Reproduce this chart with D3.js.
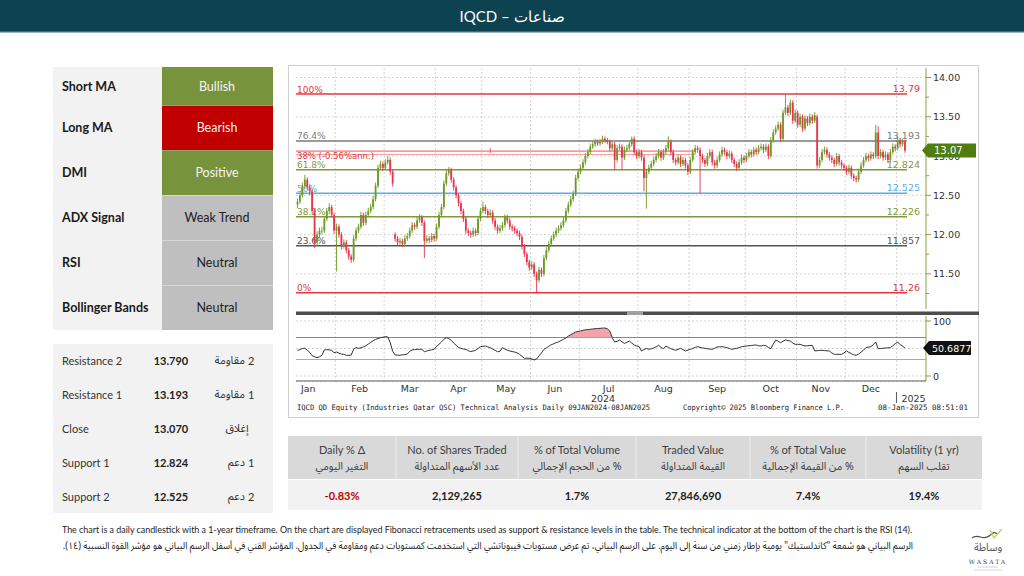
<!DOCTYPE html>
<html><head><meta charset="utf-8">
<script src="https://cdn.jsdelivr.net/npm/d3@7"></script>
<style>html,body{margin:0;padding:0;background:#fff;}svg{display:block}</style>
</head><body>
<svg id="c" width="1024" height="576"></svg>
<script>
// ---------- DATA ----------
const title = "IQCD – صناعات";
const sigLabels = ["Short MA","Long MA","DMI","ADX Signal","RSI","Bollinger Bands"];
const sigValues = ["Bullish","Bearish","Positive","Weak Trend","Neutral","Neutral"];
const sigState  = ["bull","bear","bull","neutral","neutral","neutral"];
const lvlEn  = ["Resistance 2","Resistance 1","Close","Support 1","Support 2"];
const lvlVal = ["13.790","13.193","13.070","12.824","12.525"];
const lvlAr  = ["مقاومة","مقاومة","إغلاق","دعم","دعم"];
const lvlArNum = ["2","1","","1","2"];
const statEn  = ["Daily % Δ","No. of Shares Traded","% of Total Volume","Traded Value","% of Total Value","Volatility (1 yr)"];
const statAr  = ["التغير اليومي","عدد الأسهم المتداولة","% من الحجم الإجمالي","القيمة المتداولة","% من القيمة الإجمالية","تقلب السهم"];
const statVal = ["-0.83%","2,129,265","1.7%","27,846,690","7.4%","19.4%"];
const fibPct = ["100%","76.4%","61.8%","50%","38.2%","23.6%","0%"];
const fibVal = [13.79,13.193,12.824,12.525,12.226,11.857,11.26];
const fibRight = ["13.79","13.193","12.824","12.525","12.226","11.857","11.26"];
const regLevels = [13.063,13.02];
const regLabel = "38% (-0.56%ann.)";
const priceTicks = [11.5,12.0,12.5,13.0,13.5,14.0];
const minorTicks = [11.25,11.75,12.25,12.75,13.25,13.75];
const rsiTicks = [0,100];
const rsiBands = [30,70];
const lastPrice = 13.07;
const lastRsi = 50.6877;
const months = ["Jan","Feb","Mar","Apr","May","Jun","Jul","Aug","Sep","Oct","Nov","Dec"];
const monthStart = [0,16,36,57,76,96,116,140,161,184,205,225,246]; // candle index where each month begins (last = Jan 2025)
const footLeft = "IQCD QD Equity (Industries Qatar QSC) Technical Analysis  Daily 09JAN2024-08JAN2025";
const footMid = "Copyright© 2025 Bloomberg Finance L.P.";
const footRight = "08-Jan-2025 08:51:01";
const noteEn = "The chart is a daily candlestick with a 1-year timeframe. On the chart are displayed Fibonacci retracements used as support & resistance levels in the table. The technical indicator at the bottom of the chart is the RSI (14).";
const noteAr = "الرسم البياني هو شمعة \"كاندلستيك\" يومية بإطار زمني من سنة إلى اليوم. على الرسم البياني، تم عرض مستويات فيبوناتشي التي استخدمت كمستويات دعم ومقاومة في الجدول. المؤشر الفني في أسفل الرسم البياني هو مؤشر القوة النسبية (١٤).";
// daily candles [open, high, low, close]
const candles = [
[12.38,12.46,12.34,12.42],[12.42,12.53,12.39,12.50],[12.50,12.66,12.47,12.62],[12.62,12.76,12.58,12.70],[12.70,12.73,12.57,12.60],
[12.60,12.64,12.50,12.55],[12.55,12.58,12.27,12.30],[12.30,12.33,11.83,11.90],[11.90,12.04,11.86,12.00],[12.00,12.09,11.96,12.05],
[12.05,12.10,12.00,12.05],[12.05,12.24,12.02,12.20],[12.20,12.34,12.17,12.30],[12.30,12.40,12.26,12.35],[12.35,12.38,12.21,12.25],
[12.25,12.28,12.01,12.05],[12.05,12.14,11.53,12.10],[12.10,12.13,11.96,12.00],[12.00,12.03,11.81,11.85],[11.85,11.94,11.82,11.90],
[11.90,11.93,11.76,11.80],[11.80,11.83,11.68,11.72],[11.72,11.75,11.64,11.68],[11.68,11.99,11.65,11.95],[11.95,12.09,11.92,12.05],
[12.05,12.14,12.02,12.10],[12.10,12.29,12.07,12.25],[12.25,12.28,12.11,12.15],[12.15,12.29,12.12,12.25],[12.25,12.34,12.22,12.30],
[12.30,12.39,12.27,12.35],[12.35,12.49,12.32,12.45],[12.45,12.66,12.42,12.62],[12.62,12.89,12.59,12.85],[12.85,12.94,12.82,12.90],
[12.90,12.93,12.81,12.85],[12.85,12.96,12.82,12.92],[12.92,13.00,12.89,12.95],[12.95,12.98,12.76,12.80],[12.80,12.83,12.61,12.65],
[12.00,12.03,11.91,11.95],[11.95,11.98,11.86,11.90],[11.90,11.96,11.87,11.92],[11.92,11.95,11.84,11.88],[11.88,11.99,11.85,11.95],
[11.95,12.02,11.92,11.98],[11.98,12.09,11.95,12.05],[12.05,12.16,12.02,12.12],[12.12,12.15,12.06,12.10],[12.10,12.22,12.07,12.18],
[12.18,12.26,12.15,12.22],[12.22,12.25,12.11,12.15],[12.15,12.18,11.70,11.92],[11.92,11.99,11.89,11.95],[11.95,11.98,11.89,11.93],
[11.93,12.02,11.90,11.98],[11.98,12.01,11.91,11.95],[11.95,12.14,11.92,12.10],[12.10,12.29,12.07,12.25],[12.25,12.39,12.22,12.35],
[12.35,12.69,12.32,12.65],[12.65,12.82,12.62,12.78],[12.78,12.86,12.75,12.82],[12.82,12.85,12.66,12.70],[12.70,12.73,12.56,12.60],
[12.60,12.63,12.46,12.50],[12.50,12.53,12.36,12.40],[12.40,12.43,12.26,12.30],[12.30,12.33,12.16,12.20],[12.20,12.23,12.01,12.05],
[12.05,12.08,11.98,12.02],[12.02,12.05,11.96,12.00],[12.00,12.09,11.97,12.05],[12.05,12.08,11.98,12.02],[12.02,12.24,11.99,12.20],
[12.20,12.34,12.17,12.30],[12.30,12.42,12.27,12.35],[12.35,12.38,12.26,12.30],[12.30,12.33,12.21,12.25],[12.25,12.32,12.22,12.28],
[12.28,12.31,12.14,12.18],[12.18,12.21,12.06,12.10],[12.10,12.13,12.01,12.05],[12.05,12.12,12.02,12.08],[12.08,12.16,12.05,12.12],
[12.12,12.26,12.09,12.22],[12.22,12.25,12.14,12.18],[12.18,12.21,12.06,12.10],[12.10,12.13,12.04,12.08],[12.08,12.11,12.01,12.05],
[12.05,12.08,11.98,12.02],[12.02,12.05,11.93,11.97],[11.97,12.00,11.81,11.85],[11.85,11.88,11.71,11.75],[11.75,11.78,11.61,11.65],
[11.65,11.68,11.54,11.58],[11.58,11.66,11.55,11.62],[11.62,11.65,11.46,11.50],[11.50,11.53,11.26,11.42],[11.42,11.59,11.39,11.55],
[11.55,11.58,11.46,11.50],[11.50,11.74,11.47,11.70],[11.70,11.84,11.67,11.80],[11.80,11.92,11.77,11.88],[11.88,11.99,11.85,11.95],
[11.95,12.04,11.92,12.00],[12.00,12.09,11.97,12.05],[12.05,12.12,12.02,12.08],[12.08,12.16,12.05,12.12],[12.12,12.22,12.09,12.18],
[12.18,12.34,12.15,12.30],[12.30,12.42,12.27,12.38],[12.38,12.49,12.35,12.45],[12.45,12.56,12.42,12.52],[12.52,12.76,12.49,12.72],
[12.72,12.84,12.69,12.80],[12.80,12.89,12.77,12.85],[12.85,12.96,12.82,12.92],[12.92,13.04,12.89,13.00],[13.00,13.09,12.97,13.05],
[13.05,13.16,13.02,13.12],[13.12,13.19,13.09,13.15],[13.15,13.22,13.12,13.18],[13.18,13.21,13.13,13.16],[13.16,13.22,13.13,13.18],
[13.18,13.26,13.15,13.22],[13.22,13.25,13.17,13.20],[13.20,13.23,13.15,13.18],[13.18,13.21,13.06,13.10],[13.10,13.19,13.07,13.15],
[13.15,13.18,12.82,12.95],[12.95,13.14,12.92,13.10],[13.10,13.16,13.07,13.12],[13.12,13.15,12.82,12.98],[12.98,13.12,12.95,13.08],
[13.08,13.14,13.05,13.10],[13.10,13.19,13.07,13.15],[13.15,13.25,13.12,13.22],[13.22,13.25,13.01,13.05],[13.05,13.08,12.96,13.00],
[13.00,13.09,12.97,13.05],[13.05,13.08,12.94,12.98],[12.98,13.01,12.55,12.72],[12.72,12.84,12.33,12.80],[12.80,12.89,12.77,12.85],
[12.85,12.94,12.82,12.90],[12.90,12.99,12.87,12.95],[12.95,13.04,12.92,13.00],[13.00,13.09,12.97,13.05],[13.05,13.08,12.94,12.98],
[12.98,13.09,12.95,13.05],[13.05,13.14,13.02,13.10],[13.10,13.25,13.07,13.18],[13.18,13.21,13.01,13.05],[13.05,13.08,12.91,12.95],
[12.95,12.98,12.88,12.92],[12.92,13.02,12.89,12.98],[12.98,13.01,12.86,12.90],[12.90,12.99,12.87,12.95],[12.95,12.98,12.84,12.88],
[12.88,12.91,12.76,12.80],[12.80,12.99,12.77,12.95],[12.95,13.09,12.92,13.05],[13.05,13.14,13.02,13.10],[13.10,13.13,13.04,13.08],
[13.08,13.11,12.53,13.00],[13.00,13.03,12.91,12.95],[12.95,12.98,12.86,12.90],[12.90,13.04,12.87,13.00],[13.00,13.09,12.97,13.05],
[13.05,13.08,12.88,12.92],[12.92,12.95,12.84,12.88],[12.88,12.99,12.85,12.95],[12.95,13.06,12.92,13.02],[13.02,13.12,12.99,13.08],
[13.08,13.11,13.01,13.05],[13.05,13.08,12.96,13.00],[13.00,13.07,12.97,13.03],[13.03,13.06,12.91,12.95],[12.95,12.98,12.86,12.90],
[12.90,12.93,12.81,12.85],[12.85,12.96,12.82,12.92],[12.92,13.02,12.89,12.98],[12.98,13.01,12.91,12.95],[12.95,13.04,12.92,13.00],
[13.00,13.09,12.97,13.05],[13.05,13.08,12.98,13.02],[13.02,13.12,12.99,13.08],[13.08,13.11,13.01,13.05],[13.05,13.14,13.02,13.10],
[13.10,13.16,13.07,13.12],[13.12,13.15,13.04,13.08],[13.08,13.16,13.05,13.12],[13.12,13.15,12.96,13.00],[13.00,13.24,12.97,13.20],
[13.20,13.34,13.17,13.30],[13.30,13.39,13.27,13.35],[13.35,13.44,13.32,13.40],[13.40,13.43,13.18,13.22],[13.22,13.59,13.19,13.55],
[13.55,13.79,13.52,13.62],[13.62,13.65,13.51,13.55],[13.55,13.72,13.52,13.68],[13.68,13.71,13.41,13.45],[13.45,13.59,13.42,13.55],
[13.55,13.58,13.36,13.40],[13.40,13.54,13.37,13.50],[13.50,13.53,13.31,13.35],[13.35,13.52,13.32,13.48],[13.48,13.51,13.38,13.42],
[13.42,13.54,13.39,13.50],[13.50,13.53,13.41,13.45],[13.45,13.56,13.42,13.52],[13.50,13.53,12.84,12.88],[12.88,12.99,12.85,12.95],
[12.95,13.09,12.92,13.05],[13.05,13.12,13.02,13.08],[13.08,13.11,12.98,13.02],[13.02,13.05,12.94,12.98],[12.98,13.01,12.91,12.95],
[12.95,12.98,12.86,12.90],[12.90,13.04,12.87,13.00],[13.00,13.03,12.88,12.92],[12.92,12.95,12.84,12.88],[12.88,12.91,12.81,12.85],
[12.85,12.88,12.76,12.80],[12.80,12.89,12.77,12.85],[12.85,12.88,12.71,12.75],[12.75,12.78,12.68,12.72],[12.72,12.75,12.66,12.70],
[12.70,12.84,12.67,12.80],[12.80,12.92,12.77,12.88],[12.88,12.99,12.85,12.95],[12.95,13.04,12.92,13.00],[13.00,13.03,12.93,12.97],
[12.97,13.06,12.94,13.02],[13.02,13.05,12.96,13.00],[13.00,13.40,12.97,13.30],[13.30,13.38,12.96,13.00],[13.00,13.09,12.97,13.05],
[13.05,13.08,12.94,12.98],[12.98,13.06,12.95,13.02],[13.02,13.05,12.91,12.95],[12.95,13.09,12.92,13.05],[13.05,13.16,13.02,13.12],
[13.12,13.15,13.06,13.10],[13.10,13.24,13.07,13.20],[13.20,13.23,13.11,13.15],[13.15,13.22,13.12,13.18],[13.18,13.21,13.04,13.07]
];
// RSI(14) daily values
const rsi = [
46.7,48,50,50.5,47,43,37,35,33.3,35,
37.6,47.3,48,47.5,46.7,42.4,43.6,41.5,40,39.4,
37.6,37.6,38,48.5,51.5,50.3,51,53,55,58,
61,64,66.7,68,69.7,70.5,71.5,71,60.6,45,
38.2,37.8,37.6,38.5,39,40,45,47.3,48,48.5,
48.5,48.5,44.2,45.5,46.7,47.5,48.5,54,57.6,62,
66.7,69.7,68,65,60,56,52,50.3,49,48.5,
46,44.2,45.5,46.7,50,53.3,54,54.5,53,51.5,
49,46.7,44,45,51.5,49,47,45.5,44.5,43.6,
42,39.4,36,32.1,32.5,32.1,31,29.1,31,36.4,
42,48.5,51,54,57,58.5,60.6,62,64.5,66.7,
69,72.7,75,77.5,80,81,82,83,84,84.5,
84.9,85.5,86,86.3,86.7,87,87.3,86,81.8,69.7,
61.8,63,65.5,62,59.4,61,63.6,60,56.4,54.5,
53.3,45.5,48,50.3,48.5,49.5,50.9,53,55.8,52,
49.7,54.5,52,49.7,48,46.7,48.5,50.3,48,45.5,
47,48.5,50,52,53.3,52,51,50.3,49.5,49,
48.5,50.5,52.7,53,53.3,52.5,51.5,50,48.5,49.5,
50.3,51.5,53.3,53.8,54.5,55,55.5,56,56.4,55,
54.5,55.8,55,52,49.7,58,65.5,63,60.6,63,
65.5,64.5,63.6,60,57.6,57.6,57.6,56,54.5,55,
55.5,55.8,45.5,46,46.5,46.7,46.2,45.8,45.5,42,
39.4,39.4,39.4,39.4,42,45.5,43,40.6,38.5,37.6,
40,43.6,47,51.5,52.5,53.3,57,61.8,49.7,50,
50.5,50.9,51.2,51.5,55,58.8,61.8,57,54.5,50.6877
];

// ---------- DRAW ----------
const svg = d3.select("#c");
const AR = "'Noto Sans Arabic','DejaVu Sans',sans-serif";
const LAT = "Lato,'Open Sans',sans-serif";
const BB = "'DejaVu Sans',Verdana,sans-serif";

// header
svg.append("rect").attr("x",0).attr("y",0).attr("width",1024).attr("height",31).attr("fill","#0d4351");
svg.append("rect").attr("x",0).attr("y",31).attr("width",1024).attr("height",1.5).attr("fill","#3d6d78");
svg.append("text").attr("x",512).attr("y",16).attr("text-anchor","middle").attr("dominant-baseline","central")
  .attr("fill","#fff").attr("font-family",LAT).attr("font-size",15).text(title);

// signal table
const sigColor = {bull:"#77933c",bear:"#c00000",neutral:"#bfbfbf"};
const rowTop = i => i===0 ? 67 : 105 + (i-1)*45;
const rowH = i => i===0 ? 38 : 45;
svg.append("rect").attr("x",53).attr("y",67).attr("width",109).attr("height",263).attr("fill","#f2f2f2");
sigLabels.forEach((lab,i)=>{
  const t=rowTop(i), h=rowH(i);
  svg.append("rect").attr("x",162).attr("y",t).attr("width",111).attr("height",h).attr("fill",sigColor[sigState[i]]);
  if(i>0) svg.append("line").attr("x1",162).attr("x2",273).attr("y1",t+0.5).attr("y2",t+0.5)
     .attr("stroke", sigState[i]==="neutral"? "#d8d8d8" : "#9a9a6a").attr("stroke-width",1);
  svg.append("text").attr("x",62).attr("y",t+h/2).attr("dominant-baseline","central")
    .attr("font-family",LAT).attr("font-weight",700).attr("font-size",12.5).attr("fill","#1a1a1a").text(lab);
  svg.append("text").attr("x",217).attr("y",t+h/2).attr("dominant-baseline","central").attr("text-anchor","middle")
    .attr("font-family",LAT).attr("font-size",12.5).attr("fill", sigState[i]==="neutral"?"#222":"#f4f4f4").text(sigValues[i]);
});

// levels table
svg.append("rect").attr("x",53).attr("y",344).attr("width",220).attr("height",169).attr("fill","#f2f2f2");
lvlEn.forEach((lab,i)=>{
  const cy = 360 + i*34;
  svg.append("text").attr("x",62).attr("y",cy).attr("dominant-baseline","central")
    .attr("font-family",LAT).attr("font-size",11).attr("fill","#333").text(lab);
  svg.append("text").attr("x",171).attr("y",cy).attr("dominant-baseline","central").attr("text-anchor","middle")
    .attr("font-family",LAT).attr("font-weight",700).attr("font-size",11).attr("fill","#222").text(lvlVal[i]);
  if(lvlArNum[i]){
    svg.append("text").attr("x",245).attr("y",cy).attr("dominant-baseline","central").attr("text-anchor","start")
      .attr("direction","rtl").attr("font-family",AR).attr("font-size",11).attr("fill","#333").text(lvlAr[i]);
    svg.append("text").attr("x",248).attr("y",cy).attr("dominant-baseline","central").attr("text-anchor","start")
      .attr("font-family",LAT).attr("font-size",11).attr("fill","#333").text(lvlArNum[i]);
  } else {
    svg.append("text").attr("x",237).attr("y",cy).attr("dominant-baseline","central").attr("text-anchor","middle")
      .attr("direction","rtl").attr("font-family",AR).attr("font-size",11).attr("fill","#333").text(lvlAr[i]);
  }
});

// stats table
const colB = [288,396,518,636,750,866,982];
svg.append("rect").attr("x",288).attr("y",436).attr("width",694).attr("height",43).attr("fill","#d9d9d9");
svg.append("rect").attr("x",288).attr("y",480).attr("width",694).attr("height",30).attr("fill","#f2f2f2");
statEn.forEach((lab,i)=>{
  const cx=(colB[i]+colB[i+1])/2;
  if(i>0) svg.append("line").attr("x1",colB[i]).attr("x2",colB[i]).attr("y1",436).attr("y2",479).attr("stroke","#eeeeee").attr("stroke-width",1);
  svg.append("text").attr("x",cx).attr("y",449).attr("dominant-baseline","central").attr("text-anchor","middle")
    .attr("font-family",LAT).attr("font-size",11).attr("fill","#404040").text(lab);
  svg.append("text").attr("x",cx).attr("y",467).attr("dominant-baseline","central").attr("text-anchor","middle")
    .attr("direction","rtl").attr("font-family",AR).attr("font-size",10.5).attr("fill","#404040").text(statAr[i]);
  svg.append("text").attr("x",cx).attr("y",495).attr("dominant-baseline","central").attr("text-anchor","middle")
    .attr("font-family",LAT).attr("font-weight",700).attr("font-size",11).attr("fill", statVal[i].startsWith("-")?"#c00000":"#222").text(statVal[i]);
});

// notes
svg.append("text").attr("x",62).attr("y",529).attr("dominant-baseline","central")
  .attr("font-family",LAT).attr("font-size",10).attr("fill","#222")
  .attr("textLength",850).attr("lengthAdjust","spacingAndGlyphs").text(noteEn);
const arG = svg.append("g");
const arT = arG.append("text").attr("x",0).attr("y",0).attr("dominant-baseline","central").attr("text-anchor","start")
  .attr("direction","rtl").attr("font-family",AR).attr("font-size",10).attr("fill","#222").text(noteAr);
const arLen = arT.node().getComputedTextLength();
arG.attr("transform",`translate(913,546) scale(${Math.min(1,851/arLen)},1)`);

// logo
const lg = svg.append("g");
lg.append("path").attr("d","M972,538 C978,533 983,541 989,536 C993,533 995,531 997,534").attr("fill","none").attr("stroke","#4a4a4a").attr("stroke-width",1.2);
lg.append("path").attr("d","M990,530 L994,538 L1002,529").attr("fill","none").attr("stroke","#c8d26a").attr("stroke-width",1.5);
lg.append("text").attr("x",988).attr("y",548).attr("text-anchor","middle").attr("dominant-baseline","central").attr("direction","rtl")
  .attr("font-family",AR).attr("font-size",10.5).attr("fill","#555").text("وساطة");
lg.append("text").attr("x",988).attr("y",561).attr("text-anchor","middle").attr("dominant-baseline","central")
  .attr("font-family","'DejaVu Serif',serif").attr("font-size",6).attr("letter-spacing",2).attr("fill","#444").text("WASATA");
lg.append("line").attr("x1",978).attr("x2",998).attr("y1",567).attr("y2",567).attr("stroke","#bbb").attr("stroke-width",0.6);
lg.append("line").attr("x1",974).attr("x2",1002).attr("y1",570).attr("y2",570).attr("stroke","#bbb").attr("stroke-width",0.6);

// ---------- Bloomberg chart ----------
const N = candles.length;
const x = d3.scaleLinear().domain([0,N-1]).range([297.5,905]);
const y = d3.scaleLinear().domain([11.26,13.79]).range([292.7,94]);
const yr = d3.scaleLinear().domain([0,100]).range([376,321]);
const PL=296, PR=926, PT=68, PB=309, RT=316, RB=381;
const ch = svg.append("g");
ch.append("rect").attr("x",288.5).attr("y",65.5).attr("width",690).attr("height",352).attr("fill","#fff").attr("stroke","#cfcfcf");

// grids
const grid = ch.append("g").attr("stroke","#c8c8c8").attr("stroke-dasharray","2,2").attr("stroke-width",0.8);
priceTicks.forEach(v=>grid.append("line").attr("x1",PL).attr("x2",PR).attr("y1",y(v)).attr("y2",y(v)));
[0,50,100].forEach(v=>grid.append("line").attr("x1",PL).attr("x2",PR).attr("y1",yr(v)).attr("y2",yr(v)));
monthStart.slice(1).forEach(m=>{
  const xx = x(m-0.5);
  grid.append("line").attr("x1",xx).attr("x2",xx).attr("y1",PT).attr("y2",PB);
  grid.append("line").attr("x1",xx).attr("x2",xx).attr("y1",RT).attr("y2",RB);
});

// fib lines
const fibColor = ["#e0383e","#7a7a7a","#7f9a3c","#5aaee8","#7f9a3c","#555555","#e0383e"];
fibVal.forEach((v,i)=>{
  ch.append("line").attr("x1",PL).attr("x2",907).attr("y1",y(v)).attr("y2",y(v)).attr("stroke",fibColor[i]).attr("stroke-width",1.5);
  ch.append("text").attr("x",297).attr("y",y(v)-1.5).attr("font-family",BB).attr("font-size",9).attr("fill",fibColor[i]).text(fibPct[i]);
  ch.append("text").attr("x",920).attr("y",y(v)-2).attr("text-anchor","end").attr("font-family",BB).attr("font-size",9.5).attr("fill",fibColor[i]).text(fibRight[i]);
});
// regression lines
ch.append("line").attr("x1",PL).attr("x2",x(163)).attr("y1",y(regLevels[0])).attr("y2",y(regLevels[0])).attr("stroke","#e85a5a").attr("stroke-width",1);
ch.append("line").attr("x1",PL).attr("x2",x(163)).attr("y1",y(regLevels[1])).attr("y2",y(regLevels[1])).attr("stroke","#f2a0a0").attr("stroke-width",1);
ch.append("line").attr("x1",x(79)).attr("x2",x(79)).attr("y1",y(regLevels[0])-3).attr("y2",y(regLevels[0])+2).attr("stroke","#e85a5a").attr("stroke-width",1);
ch.append("text").attr("x",297).attr("y",y(regLevels[1])+4.5).attr("font-family",BB).attr("font-size",8.5).attr("fill","#e0383e").text(regLabel);

// candles
const UP="#6c9a22", DN="#e8344e";
const cg = ch.append("g");
candles.forEach((d,i)=>{
  const [o,h,l,c]=d; const col = c>=o?UP:DN; const cx=x(i);
  cg.append("line").attr("x1",cx).attr("x2",cx).attr("y1",y(h)).attr("y2",y(l)).attr("stroke",col).attr("stroke-width",0.9);
  const top=y(Math.max(o,c)), bot=y(Math.min(o,c));
  cg.append("rect").attr("x",cx-0.9).attr("y",top).attr("width",1.8).attr("height",Math.max(0.8,bot-top)).attr("fill",col);
});

// right axis price
const ax = ch.append("g");
ax.append("line").attr("x1",PR).attr("x2",PR).attr("y1",PT).attr("y2",PB).attr("stroke","#8aa040").attr("stroke-width",1);
priceTicks.forEach(v=>{
  ax.append("line").attr("x1",PR).attr("x2",PR+5).attr("y1",y(v)).attr("y2",y(v)).attr("stroke","#8aa040");
  ax.append("text").attr("x",PR+7).attr("y",y(v)).attr("dominant-baseline","central").attr("font-family",BB).attr("font-size",9.5).attr("fill","#333").text(d3.format(".2f")(v));
});
minorTicks.forEach(v=>ax.append("line").attr("x1",PR).attr("x2",PR+3).attr("y1",y(v)).attr("y2",y(v)).attr("stroke","#8aa040"));
// last price tag
const ly=y(lastPrice);
ax.append("path").attr("d",`M${PR-4},${ly} L${PR+2},${ly-7} L976,${ly-7} L976,${ly+7} L${PR+2},${ly+7} Z`).attr("fill","#4e7d10");
ax.append("text").attr("x",PR+8).attr("y",ly).attr("dominant-baseline","central").attr("font-family",BB).attr("font-size",10).attr("fill","#fff").text(d3.format(".2f")(lastPrice));

// separator bar
ch.append("rect").attr("x",PL).attr("y",311.5).attr("width",979-PL).attr("height",3.5).attr("fill","#4d4d4d");
ch.append("rect").attr("x",627).attr("y",311.5).attr("width",16).attr("height",3.5).attr("fill","#a0a0a0");

// RSI panel
rsiBands.forEach(v=>ch.append("line").attr("x1",PL).attr("x2",PR).attr("y1",yr(v)).attr("y2",yr(v))
  .attr("stroke", v>50?"#e06060":"#7ccf6a").attr("stroke-width",1.2));
const area = d3.area().x((d,i)=>x(i)).y0(yr(70)).y1(d=>yr(Math.max(d,70)));
ch.append("path").datum(rsi).attr("d",area).attr("fill","#f4a3aa");
const line = d3.line().x((d,i)=>x(i)).y(d=>yr(d));
ch.append("path").datum(rsi).attr("d",line).attr("fill","none").attr("stroke","#333").attr("stroke-width",1);
ax.append("line").attr("x1",PR).attr("x2",PR).attr("y1",RT).attr("y2",RB).attr("stroke","#8aa040");
rsiTicks.forEach(v=>{
  ax.append("line").attr("x1",PR).attr("x2",PR+5).attr("y1",yr(v)).attr("y2",yr(v)).attr("stroke","#8aa040");
  ax.append("text").attr("x",PR+7).attr("y",yr(v)).attr("dominant-baseline","central").attr("font-family",BB).attr("font-size",9.5).attr("fill","#333").text(v);
});
const ry=yr(lastRsi);
ax.append("path").attr("d",`M${PR-3},${ry} L${PR+3},${ry-7} L971,${ry-7} L971,${ry+7} L${PR+3},${ry+7} Z`).attr("fill","#111");
ax.append("text").attr("x",PR+6).attr("y",ry).attr("dominant-baseline","central").attr("font-family",BB).attr("font-size",9.5).attr("fill","#fff").text(lastRsi);

// x axis
ch.append("line").attr("x1",PL).attr("x2",PR).attr("y1",RB).attr("y2",RB).attr("stroke","#555").attr("stroke-width",1);
months.forEach((m,i)=>{
  const a = x(monthStart[i]-0.5), b = x(monthStart[i+1]-0.5);
  const cx = i===0 ? b-27 : (a+b)/2;
  ch.append("text").attr("x",cx).attr("y",388).attr("text-anchor","middle").attr("dominant-baseline","central")
    .attr("font-family",BB).attr("font-size",9.5).attr("fill","#333").text(m);
});
ch.append("text").attr("x",603).attr("y",398).attr("text-anchor","middle").attr("dominant-baseline","central")
  .attr("font-family",BB).attr("font-size",9.5).attr("fill","#333").text("2024");
const yx = x(monthStart[12]-0.5);
ch.append("line").attr("x1",yx).attr("x2",yx).attr("y1",392).attr("y2",403).attr("stroke","#555");
ch.append("text").attr("x",yx+5).attr("y",398).attr("dominant-baseline","central")
  .attr("font-family",BB).attr("font-size",9.5).attr("fill","#333").text("2025");
// footer of chart
const FM="'DejaVu Sans Mono','Liberation Mono',monospace";
ch.append("text").attr("x",297).attr("y",407).attr("dominant-baseline","central").attr("font-family",FM).attr("font-size",7.5).attr("fill","#222")
  .attr("textLength",353).attr("lengthAdjust","spacingAndGlyphs").text(footLeft);
ch.append("text").attr("x",683).attr("y",407).attr("dominant-baseline","central").attr("font-family",FM).attr("font-size",7.5).attr("fill","#222")
  .attr("textLength",161).attr("lengthAdjust","spacingAndGlyphs").text(footMid);
ch.append("text").attr("x",878).attr("y",407).attr("dominant-baseline","central").attr("font-family",FM).attr("font-size",7.5).attr("fill","#222")
  .attr("textLength",90).attr("lengthAdjust","spacingAndGlyphs").text(footRight);
</script>
</body></html>
